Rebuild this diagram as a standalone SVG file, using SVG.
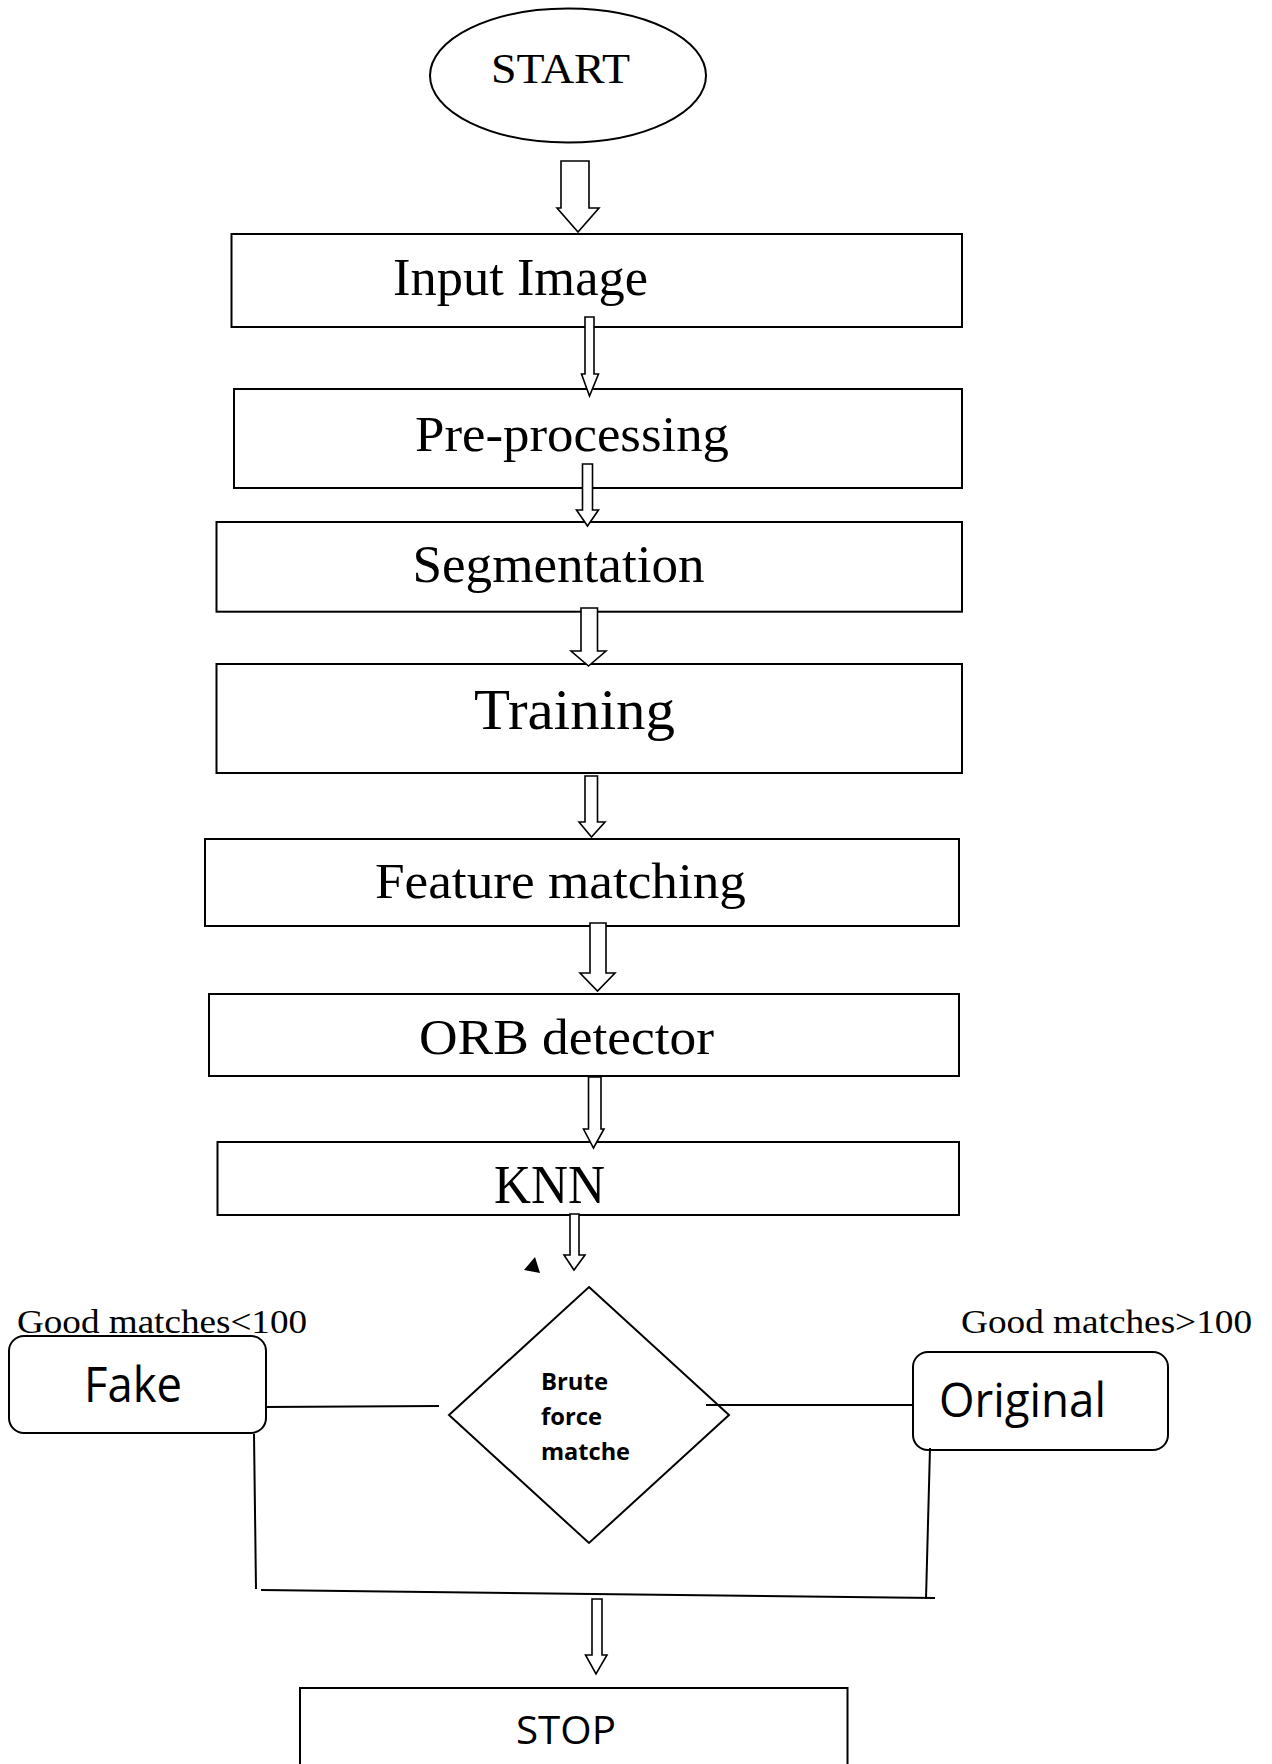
<svg xmlns="http://www.w3.org/2000/svg" width="1272" height="1764" viewBox="0 0 1272 1764">
<style>
.box{fill:#fff;stroke:#000;stroke-width:2}
.arr{fill:#fff;stroke:#000;stroke-width:1.6;stroke-linejoin:miter}
.ln{fill:none;stroke:#000;stroke-width:2}
.serif{font-family:"Liberation Serif","Times New Roman",serif;fill:#000}
.sans{font-family:"Open Sans","Liberation Sans",sans-serif;fill:#000}
</style>
<rect width="1272" height="1764" fill="#fff"/>
<g id="start"><ellipse class="box" cx="568" cy="75.5" rx="138" ry="67"/><text class="serif" x="491" y="83" font-size="42" textLength="139" lengthAdjust="spacingAndGlyphs">START</text></g>
<g id="input"><rect class="box" x="231.5" y="234" width="730.5" height="93"/><text class="serif" x="393" y="295" font-size="52" textLength="255" lengthAdjust="spacingAndGlyphs">Input Image</text></g>
<g id="preprocessing"><rect class="box" x="234" y="389" width="728" height="99"/><text class="serif" x="415" y="451" font-size="50" textLength="314" lengthAdjust="spacingAndGlyphs">Pre-processing</text></g>
<g id="segmentation"><rect class="box" x="216.5" y="522" width="745.5" height="89.7"/><text class="serif" x="412.5" y="582" font-size="53" textLength="292" lengthAdjust="spacingAndGlyphs">Segmentation</text></g>
<g id="training"><rect class="box" x="216.5" y="664" width="745.5" height="109"/><text class="serif" x="474" y="729" font-size="56" textLength="201" lengthAdjust="spacingAndGlyphs">Training</text></g>
<g id="feature"><rect class="box" x="205" y="839" width="754" height="87"/><text class="serif" x="375" y="898" font-size="51" textLength="371" lengthAdjust="spacingAndGlyphs">Feature matching</text></g>
<g id="orb"><rect class="box" x="209" y="994" width="750" height="82"/><text class="serif" x="419" y="1054" font-size="51" textLength="295" lengthAdjust="spacingAndGlyphs">ORB detector</text></g>
<g id="knn"><rect class="box" x="217.5" y="1142" width="741.5" height="73"/><text class="serif" x="494" y="1203" font-size="54" textLength="111" lengthAdjust="spacingAndGlyphs">KNN</text></g>
<g id="decision"><polygon class="box" points="589,1287 729,1415 589,1543 449,1415"/>
<text class="sans" font-weight="bold" font-size="24"><tspan x="541" y="1390" textLength="67" lengthAdjust="spacingAndGlyphs">Brute</tspan><tspan x="541" y="1425" textLength="61" lengthAdjust="spacingAndGlyphs">force</tspan><tspan x="541" y="1460" textLength="89" lengthAdjust="spacingAndGlyphs">matche</tspan></text></g>
<g id="fake"><rect class="box" x="9" y="1336" width="257" height="97" rx="15" ry="15"/><text class="sans" x="84" y="1402" font-size="50" textLength="98" lengthAdjust="spacingAndGlyphs">Fake</text></g>
<g id="original"><rect class="box" x="913" y="1352" width="255" height="98" rx="15" ry="15"/><text class="sans" x="939" y="1417" font-size="48" textLength="167" lengthAdjust="spacingAndGlyphs">Original</text></g>
<g id="label-fake"><text class="serif" x="17" y="1333" font-size="33" textLength="290" lengthAdjust="spacingAndGlyphs">Good matches&lt;100</text></g>
<g id="label-original"><text class="serif" x="961" y="1333" font-size="33" textLength="291" lengthAdjust="spacingAndGlyphs">Good matches&gt;100</text></g>
<g id="stop"><rect class="box" x="300" y="1688" width="547.5" height="90"/><text class="sans" x="516" y="1744" font-size="39" textLength="100" lengthAdjust="spacingAndGlyphs">STOP</text></g>
<g id="connectors">
<polygon class="arr" points="561,161 589,161 589,208 599,208 578,232 557,208 561,208"/>
<polygon class="arr" points="585,317 594,317 594,374 598.5,374 589.5,396 581.5,374 585,374"/>
<polygon class="arr" points="582.5,464 592.5,464 592.5,510 598.5,510 587.5,526 576.5,510 582.5,510"/>
<polygon class="arr" points="581,608 597.5,608 597.5,651 606,651 588.5,666 571,651 581,651"/>
<polygon class="arr" points="585,776 597.5,776 597.5,822 605,822 591.5,837 579,822 585,822"/>
<polygon class="arr" points="590,923 606,923 606,973 615,973 597.5,991 580,973 590,973"/>
<polygon class="arr" points="588.5,1077 601,1077 601,1129 604,1129 593.5,1148 583.5,1129 588.5,1129"/>
<polygon class="arr" points="570,1214 579,1214 579,1255 585,1255 574,1270 564,1255 570,1255"/>
<polygon points="535,1257 524,1270 540,1273" fill="#000"/>
<line class="ln" x1="266" y1="1407" x2="439" y2="1406"/>
<line class="ln" x1="706" y1="1405" x2="913" y2="1405"/>
<line class="ln" x1="254" y1="1434" x2="256" y2="1589"/>
<line class="ln" x1="261" y1="1590" x2="935" y2="1598"/>
<line class="ln" x1="930" y1="1448" x2="926" y2="1599"/>
<polygon class="arr" points="592,1599 602,1599 602,1655 607,1655 596,1674 585.5,1655 592,1655"/>
</g>
</svg>
